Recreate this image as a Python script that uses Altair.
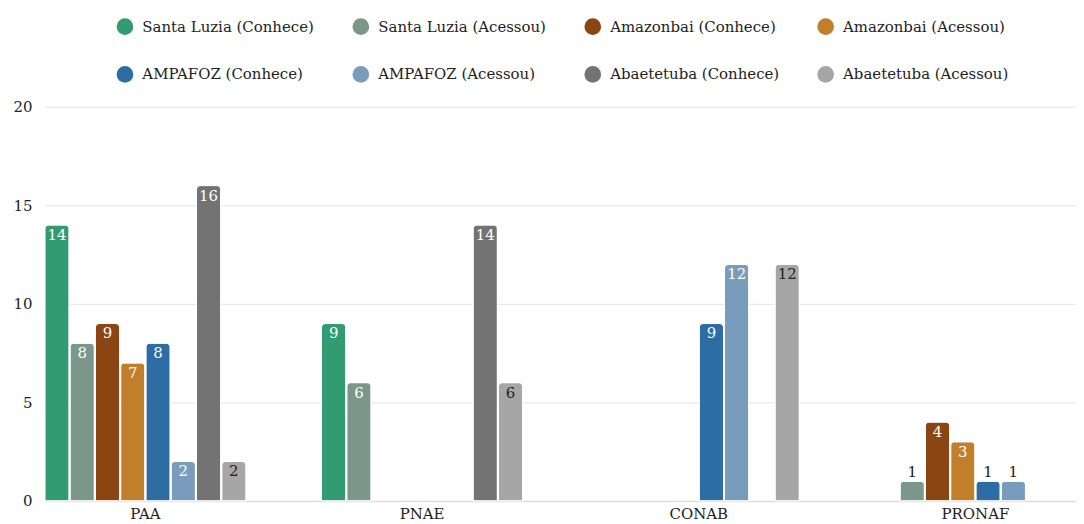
import altair as alt
import pandas as pd

categories = ["PAA", "PNAE", "CONAB", "PRONAF"]
series = [
    "Santa Luzia (Conhece)", "Santa Luzia (Acessou)",
    "Amazonbai (Conhece)", "Amazonbai (Acessou)",
    "AMPAFOZ (Conhece)", "AMPAFOZ (Acessou)",
    "Abaetetuba (Conhece)", "Abaetetuba (Acessou)",
]
colors = ["#339B72", "#7A978A", "#8B4513", "#C17F2C",
          "#2E6DA4", "#7A9CBC", "#737373", "#A6A6A6"]

santa_luzia_conhece = [14, 9, 0, 0]
santa_luzia_acessou = [8, 6, 0, 1]
amazonbai_conhece = [9, 0, 0, 4]
amazonbai_acessou = [7, 0, 0, 3]
ampafoz_conhece = [8, 0, 9, 1]
ampafoz_acessou = [2, 0, 12, 1]
abaetetuba_conhece = [16, 14, 0, 0]
abaetetuba_acessou = [2, 6, 12, 0]

all_values = [santa_luzia_conhece, santa_luzia_acessou, amazonbai_conhece,
              amazonbai_acessou, ampafoz_conhece, ampafoz_acessou,
              abaetetuba_conhece, abaetetuba_acessou]

rows = []
for s, vals in zip(series, all_values):
    for c, v in zip(categories, vals):
        rows.append({"programa": c, "serie": s, "valor": v})
df = pd.DataFrame(rows)

FONT = "DejaVu Serif"
FS = 15

x_enc = alt.X("programa:N", sort=categories, title=None,
              scale=alt.Scale(paddingInner=0.273, paddingOuter=0),
              axis=alt.Axis(labelAngle=0, ticks=False, domain=True,
                            domainColor="#dddddd", domainWidth=1.5,
                            labelPadding=6))
xoff_enc = alt.XOffset("serie:N", sort=series,
                       scale=alt.Scale(paddingInner=0.04, paddingOuter=0))
y_enc = alt.Y("valor:Q", title=None,
              scale=alt.Scale(domain=[0, 20]),
              axis=alt.Axis(values=[0, 5, 10, 15, 20], domain=False, ticks=False,
                            grid=True, gridColor="#e3e3e3",
                            labelPadding=13))

base = alt.Chart(df).encode(x=x_enc, xOffset=xoff_enc, y=y_enc)

bars = base.transform_filter(alt.datum.valor > 0).mark_bar(
    cornerRadiusTopLeft=4, cornerRadiusTopRight=4,
    stroke="white", strokeWidth=1
).encode(
    color=alt.Color("serie:N", sort=series,
                    scale=alt.Scale(domain=series, range=colors),
                    title=None,
                    legend=alt.Legend(orient="none", legendX=72, legendY=-89,
                                      direction="horizontal", columns=4,
                                      symbolType="circle", symbolSize=280,
                                      symbolStrokeWidth=0,
                                      labelOffset=9,
                                      columnPadding=38, rowPadding=31,
                                      labelLimit=300))
)

inside = base.transform_filter(alt.datum.valor >= 2).mark_text(
    baseline="top", dy=3
).encode(
    text=alt.Text("valor:Q"),
    color=alt.condition(alt.datum.serie == "Abaetetuba (Acessou)",
                        alt.value("#222222"), alt.value("white")),
)

outside = base.transform_filter(
    (alt.datum.valor > 0) & (alt.datum.valor < 2)
).mark_text(
    baseline="alphabetic", dy=-4, color="#222222"
).encode(text=alt.Text("valor:Q"))

chart = alt.layer(bars, inside, outside).properties(
    width=1036, height=396,
    padding={"left": 4, "top": 9, "right": 0, "bottom": 0},
).configure(
    font=FONT
).configure_view(
    stroke=None
).configure_axis(
    labelFont=FONT, labelFontSize=FS, labelColor="#222222"
).configure_legend(
    labelFont=FONT, labelFontSize=FS, labelColor="#222222"
).configure_text(
    font=FONT, fontSize=FS
)

chart.save("out.html", embed_options={"renderer": "svg", "actions": False})
